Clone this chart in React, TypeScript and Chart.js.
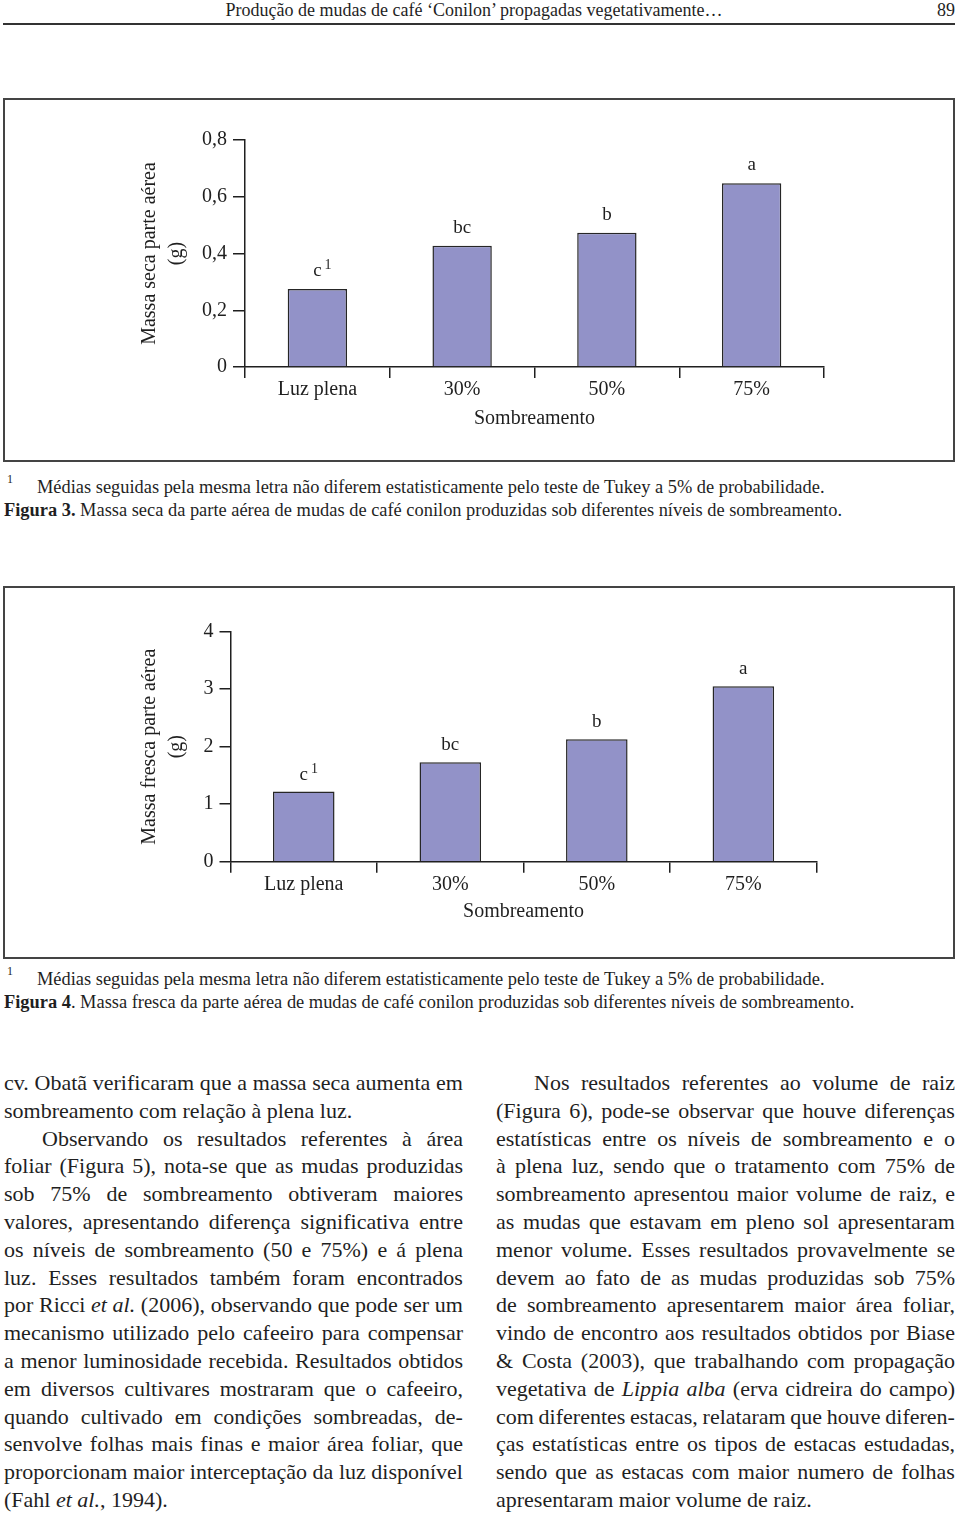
import React, { useEffect, useRef } from 'react';
import { Chart, registerables } from 'chart.js';

Chart.register(...registerables);

// ---------- data ----------
const categories = ['Luz plena', '30%', '50%', '75%'];
const dryMassValues = [0.275, 0.427, 0.473, 0.648];
const freshMassValues = [1.22, 1.73, 2.13, 3.05];
const tukeyLetters = ['c', 'bc', 'b', 'a'];
const footnoteMarks = ['1', '', '', ''];
const dryTickLabels = ['0', '0,2', '0,4', '0,6', '0,8'];
const freshTickLabels = ['0', '1', '2', '3', '4'];
const dryAxisTitle = ['Massa seca parte aérea', '(g)'];
const freshAxisTitle = ['Massa fresca parte aérea', '(g)'];
const xAxisTitle = 'Sombreamento';

// ---------- styles ----------
const FONT = "'Liberation Serif', 'Times New Roman', Times, serif";
const INK = '#1f1f1f';
const BAR_FILL = 'rgb(146, 146, 200)';
const BAR_EDGE = '#262626';

type ChartParams = {
  values: number[];
  yMax: number;
  step: number;
  tickLabels: string[];
  titleLines: string[];
  width: number;
  height: number;
  padLeft: number;
  padRight: number;
  padTop: number;
  padBottom: number;
  yWidth: number;
  yTitlePadTop: number;
  xHeight: number;
  xTitlePadBottom: number;
  barPct: number;
  xTickLen: number;
  yTickLen: number;
  letterOffset: number;
};

function makeLetterPlugin(letters: string[], marks: string[], offset: number) {
  return {
    id: 'tukeyLetters',
    afterDatasetsDraw(chart: any) {
      const ctx = chart.ctx;
      const meta = chart.getDatasetMeta(0);
      ctx.save();
      ctx.fillStyle = INK;
      ctx.textBaseline = 'alphabetic';
      meta.data.forEach((bar: any, i: number) => {
        const y = bar.y - offset;
        ctx.font = `19px ${FONT}`;
        ctx.textAlign = 'center';
        ctx.fillText(letters[i], bar.x, y);
        if (marks[i]) {
          const w = ctx.measureText(letters[i]).width;
          ctx.font = `14px ${FONT}`;
          ctx.textAlign = 'left';
          ctx.fillText(marks[i], bar.x + w / 2 + 3, y - 7);
        }
      });
      ctx.restore();
    },
  };
}

function BarChart({ p }: { p: ChartParams }) {
  const ref = useRef<HTMLCanvasElement | null>(null);
  useEffect(() => {
    if (!ref.current) return;
    const font = { family: FONT, size: 20 };
    const chart = new Chart(ref.current, {
      type: 'bar',
      data: {
        labels: categories,
        datasets: [
          {
            data: p.values,
            backgroundColor: BAR_FILL,
            borderColor: BAR_EDGE,
            borderWidth: 1.5,
            barPercentage: p.barPct,
            categoryPercentage: 1,
          },
        ],
      },
      options: {
        animation: false,
        responsive: false,
        maintainAspectRatio: false,
        layout: {
          padding: { left: p.padLeft, right: p.padRight, top: p.padTop, bottom: p.padBottom },
        },
        plugins: {
          legend: { display: false },
          tooltip: { enabled: false },
          title: { display: false },
        },
        scales: {
          x: {
            grid: {
              offset: true,
              drawOnChartArea: false,
              drawTicks: true,
              tickLength: p.xTickLen,
              color: INK,
              lineWidth: 1.5,
            },
            border: { display: true, color: INK, width: 1.5 },
            ticks: { color: INK, font, padding: 0, maxRotation: 0 },
            title: {
              display: true,
              text: xAxisTitle,
              color: INK,
              font: { family: FONT, size: 20, lineHeight: 1.2 },
              padding: { top: 0, bottom: p.xTitlePadBottom },
            },
            afterFit: (s: any) => {
              s.height = p.xHeight;
            },
          },
          y: {
            min: 0,
            max: p.yMax,
            ticks: {
              stepSize: p.step,
              color: INK,
              font,
              padding: 6,
              callback: (_v: any, i: number) => p.tickLabels[i],
            },
            grid: {
              drawOnChartArea: false,
              drawTicks: true,
              tickLength: p.yTickLen,
              color: INK,
              lineWidth: 1.5,
            },
            border: { display: true, color: INK, width: 1.5 },
            title: {
              display: true,
              text: p.titleLines,
              color: INK,
              font: { family: FONT, size: 20, lineHeight: 1.35 },
              padding: { top: p.yTitlePadTop, bottom: 0 },
            },
            afterFit: (s: any) => {
              s.width = p.yWidth;
            },
          },
        },
      } as any,
      plugins: [makeLetterPlugin(tukeyLetters, footnoteMarks, p.letterOffset)],
    });
    return () => chart.destroy();
  }, [p]);
  return (
    <canvas
      ref={ref}
      width={p.width}
      height={p.height}
      style={{ display: 'block', width: p.width, height: p.height }}
    />
  );
}

const dryParams: ChartParams = {
  values: dryMassValues,
  yMax: 0.8,
  step: 0.2,
  tickLabels: dryTickLabels,
  titleLines: dryAxisTitle,
  width: 948,
  height: 360,
  padLeft: 120,
  padRight: 129,
  padTop: 40,
  padBottom: 23,
  yWidth: 120,
  yTitlePadTop: 11.5,
  xHeight: 70,
  xTitlePadBottom: 6.5,
  barPct: 0.41,
  xTickLen: 11,
  yTickLen: 12,
  letterOffset: 13,
};

const freshParams: ChartParams = {
  values: freshMassValues,
  yMax: 4,
  step: 1,
  tickLabels: freshTickLabels,
  titleLines: freshAxisTitle,
  width: 948,
  height: 369,
  padLeft: 105.5,
  padRight: 136.4,
  padTop: 43.7,
  padBottom: 25.3,
  yWidth: 120,
  yTitlePadTop: 26,
  xHeight: 70,
  xTitlePadBottom: 8,
  barPct: 0.42,
  xTickLen: 11,
  yTickLen: 11,
  letterOffset: 12,
};

// ---------- text ----------
type Line = { t: string; indent?: boolean; end?: boolean };

const leftLines: Line[] = [
  { t: 'cv. Obatã verificaram que a massa seca aumenta em' },
  { t: 'sombreamento com relação à plena luz.', end: true },
  { t: 'Observando os resultados referentes à área', indent: true },
  { t: 'foliar (Figura 5), nota-se que as mudas produzidas' },
  { t: 'sob 75% de sombreamento obtiveram maiores' },
  { t: 'valores, apresentando diferença significativa entre' },
  { t: 'os níveis de sombreamento (50 e 75%) e á plena' },
  { t: 'luz. Esses resultados também foram encontrados' },
  { t: 'por Ricci *et al.* (2006), observando que pode ser um' },
  { t: 'mecanismo utilizado pelo cafeeiro para compensar' },
  { t: 'a menor luminosidade recebida. Resultados obtidos' },
  { t: 'em diversos cultivares mostraram que o cafeeiro,' },
  { t: 'quando cultivado em condições sombreadas, de-' },
  { t: 'senvolve folhas mais finas e maior área foliar, que' },
  { t: 'proporcionam maior interceptação da luz disponível' },
  { t: '(Fahl *et al.*, 1994).', end: true },
];

const rightLines: Line[] = [
  { t: 'Nos resultados referentes ao volume de raiz', indent: true },
  { t: '(Figura 6), pode-se observar que houve diferenças' },
  { t: 'estatísticas entre os níveis de sombreamento e o' },
  { t: 'à plena luz, sendo que o tratamento com 75% de' },
  { t: 'sombreamento apresentou maior volume de raiz, e' },
  { t: 'as mudas que estavam em pleno sol apresentaram' },
  { t: 'menor volume. Esses resultados provavelmente se' },
  { t: 'devem ao fato de as mudas produzidas sob 75%' },
  { t: 'de sombreamento apresentarem maior área foliar,' },
  { t: 'vindo de encontro aos resultados obtidos por Biase' },
  { t: '& Costa (2003), que trabalhando com propagação' },
  { t: 'vegetativa de *Lippia alba* (erva cidreira do campo)' },
  { t: 'com diferentes estacas, relataram que houve diferen-' },
  { t: 'ças estatísticas entre os tipos de estacas estudadas,' },
  { t: 'sendo que as estacas com maior numero de folhas' },
  { t: 'apresentaram maior volume de raiz.', end: true },
];

// split into words, keeping italic flags; a word may contain italic and roman parts
function toWords(t: string) {
  const words: { parts: { s: string; it: boolean }[] }[] = [];
  let italic = false;
  let cur: { s: string; it: boolean }[] = [];
  let buf = '';
  const flush = () => {
    if (buf) cur.push({ s: buf, it: italic });
    buf = '';
  };
  for (const ch of t) {
    if (ch === '*') {
      flush();
      italic = !italic;
    } else if (ch === ' ') {
      flush();
      if (cur.length) words.push({ parts: cur });
      cur = [];
    } else {
      buf += ch;
    }
  }
  flush();
  if (cur.length) words.push({ parts: cur });
  return words;
}

function Word({ parts }: { parts: { s: string; it: boolean }[] }) {
  return (
    <span style={{ whiteSpace: 'nowrap' }}>
      {parts.map((p, i) => (p.it ? <i key={i}>{p.s}</i> : <React.Fragment key={i}>{p.s}</React.Fragment>))}
    </span>
  );
}

function Column({ lines, left, top }: { lines: Line[]; left: number; top: number }) {
  return (
    <div style={{ position: 'absolute', left, top, width: 459 }}>
      {lines.map((l, i) => {
        const words = toWords(l.t);
        return (
          <div
            key={i}
            style={{
              height: 27.8,
              lineHeight: '27.8px',
              paddingLeft: l.indent ? 38 : 0,
              display: 'flex',
              justifyContent: l.end ? 'flex-start' : 'space-between',
              columnGap: l.end ? '0.25em' : 0,
              whiteSpace: 'nowrap',
            }}
          >
            {words.map((w, j) => (
              <Word key={j} parts={w.parts} />
            ))}
          </div>
        );
      })}
    </div>
  );
}

function Caption({ top, fig, text }: { top: number; fig: string; text: string }) {
  return (
    <>
      <div style={{ position: 'absolute', left: 7, top: top - 4, fontSize: 12, lineHeight: '14px' }}>1</div>
      <div style={{ position: 'absolute', left: 37, top, fontSize: 18.4, lineHeight: '22px', whiteSpace: 'nowrap' }}>
        Médias seguidas pela mesma letra não diferem estatisticamente pelo teste de Tukey a 5% de probabilidade.
      </div>
      <div style={{ position: 'absolute', left: 4, top: top + 22.5, fontSize: 18.4, lineHeight: '22px', whiteSpace: 'nowrap' }}>
        <b>{fig}</b>
        {text}
      </div>
    </>
  );
}

export default function App() {
  const boxStyle = (top: number, height: number): React.CSSProperties => ({
    position: 'absolute',
    left: 3,
    top,
    width: 948,
    height,
    border: '2px solid #444',
    background: '#fff',
  });
  return (
    <div
      style={{
        position: 'absolute',
        left: 0,
        top: 0,
        width: 960,
        height: 1516,
        background: '#fff',
        color: INK,
        fontFamily: FONT,
        overflow: 'hidden',
      }}
    >
      <div
        style={{
          position: 'absolute',
          left: 0,
          top: 0,
          width: 948,
          textAlign: 'center',
          fontSize: 18,
          lineHeight: '20px',
          whiteSpace: 'nowrap',
        }}
      >
        Produção de mudas de café ‘Conilon’ propagadas vegetativamente…
      </div>
      <div style={{ position: 'absolute', left: 937, top: 0, fontSize: 18, lineHeight: '20px' }}>89</div>
      <div style={{ position: 'absolute', left: 3, top: 23, width: 952, height: 2, background: '#333' }} />

      <div style={boxStyle(98, 360)}>
        <BarChart p={dryParams} />
      </div>
      <Caption
        top={476}
        fig="Figura 3."
        text=" Massa seca da parte aérea de mudas de café conilon produzidas sob diferentes níveis de sombreamento."
      />

      <div style={boxStyle(586, 369)}>
        <BarChart p={freshParams} />
      </div>
      <Caption
        top={968}
        fig="Figura 4"
        text=". Massa fresca da parte aérea de mudas de café conilon produzidas sob diferentes níveis de sombreamento."
      />

      <div style={{ fontSize: 22 }}>
        <Column lines={leftLines} left={4} top={1069} />
        <Column lines={rightLines} left={496} top={1069} />
      </div>
    </div>
  );
}
